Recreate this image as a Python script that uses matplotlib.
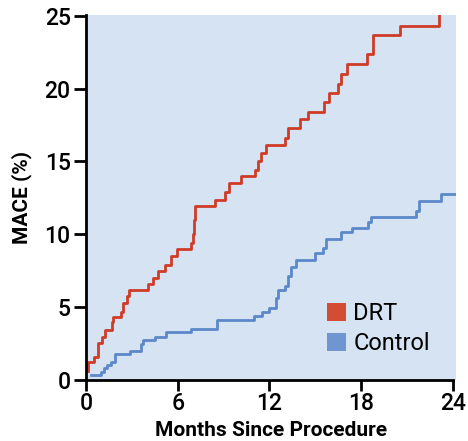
import matplotlib
matplotlib.use('Agg')
import matplotlib.pyplot as plt
from matplotlib.patches import Patch

# Kaplan-Meier style step data (months, MACE %)
drt_t = [0.15, 0.15, 0.52, 0.8, 1.03, 1.24, 1.68, 1.79, 2.29, 2.4, 2.66, 2.83,
         4.07, 4.4, 4.73, 5.16, 5.53, 5.93, 6.9, 6.97, 7.05, 7.12, 8.43, 9.1,
         9.37, 10.13, 11.05, 11.27, 11.42, 11.8, 13.0, 13.22, 14.0, 14.5,
         15.58, 15.9, 16.49, 16.67, 17.04, 18.41, 18.74, 20.52, 23.09]
drt_v = [0.64, 1.26, 1.6, 2.57, 2.95, 3.45, 3.95, 4.3, 4.7, 5.3, 5.75, 6.2,
         6.6, 7.0, 7.5, 7.9, 8.5, 9.0, 9.4, 10.0, 11.0, 11.95, 12.35, 12.9,
         13.5, 14.0, 14.43, 15.05, 15.56, 16.1, 16.6, 17.3, 17.93, 18.39,
         19.08, 19.72, 20.34, 21.03, 21.66, 22.34, 23.67, 24.3, 25.3]

ctl_t = [0.3, 0.96, 1.18, 1.4, 1.61, 1.9, 2.88, 3.58, 3.7, 4.51, 5.21, 6.9,
         8.6, 10.96, 11.5, 12.0, 12.43, 12.58, 13.0, 13.23, 13.38, 13.73,
         15.0, 15.47, 15.69, 16.67, 17.43, 18.45, 18.63, 21.6, 21.76, 23.25,
         24.2]
ctl_v = [0.34, 0.57, 0.8, 1.03, 1.26, 1.79, 2.0, 2.46, 2.76, 2.94, 3.26, 3.52,
         4.14, 4.37, 4.67, 4.94, 5.63, 6.2, 6.43, 7.12, 7.77, 8.22,
         8.69, 9.03, 9.7, 10.16, 10.46, 10.85, 11.2, 11.6, 12.3, 12.76,
         12.76]

x_ticks = [0, 6, 12, 18, 24]
y_ticks = [0, 5, 10, 15, 20, 25]

red = '#cf3b26'
blue = '#5b88c9'

plt.rcParams['font.family'] = ['Roboto', 'DejaVu Sans']

fig = plt.figure(figsize=(4.68, 4.41), dpi=100)
ax = fig.add_axes([86 / 468, 1 - 380 / 441, 370 / 468, 365 / 441])
ax.set_facecolor('#d6e3f3')

ax.step(drt_t, drt_v, where='post', color=red, lw=2)
ax.step(ctl_t, ctl_v, where='post', color=blue, lw=2)

ax.set_xlim(0, 24.2)
ax.set_ylim(0, 25.05)
ax.set_xticks(x_ticks)
ax.set_yticks(y_ticks)

for s in ['top', 'right']:
    ax.spines[s].set_visible(False)
for s in ['left', 'bottom']:
    ax.spines[s].set_linewidth(2)
    ax.spines[s].set_color('black')
ax.spines['bottom'].set_bounds(0, 24)
ax.tick_params(axis='y', length=9, width=2, labelsize=16.5, pad=2)
ax.tick_params(axis='x', length=8, width=2, labelsize=16.5, pad=1)
for lab in ax.get_xticklabels() + ax.get_yticklabels():
    lab.set_fontweight('medium')

ax.set_xlabel('Months Since Procedure', fontsize=15, fontweight='bold', labelpad=4)
ax.set_ylabel('MACE (%)', fontsize=15, fontweight='bold', labelpad=9)

handles = [Patch(facecolor='#d34c33', edgecolor='none', label='DRT'),
           Patch(facecolor='#6f96d0', edgecolor='none', label='Control')]
ax.legend(handles=handles, loc='center left', bbox_to_anchor=(0.62, 0.14),
          frameon=False, fontsize=17, handlelength=0.8, handleheight=0.8,
          handletextpad=0.3, labelspacing=0.3, borderpad=0)

fig.savefig('out.png', dpi=100)
